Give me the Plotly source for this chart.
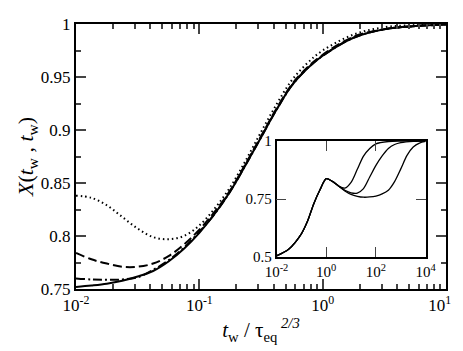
import plotly.graph_objects as go

# main panel: x in t_w / tau_eq^(2/3), log10 positions
main_logx = [-2, -1.875, -1.75, -1.625, -1.5, -1.375, -1.25, -1.125, -1, -0.875,
             -0.75, -0.625, -0.5, -0.375, -0.25, -0.125, 0, 0.25, 0.5, 0.75, 1]
solid = [0.752, 0.7533, 0.7550, 0.7578, 0.7618, 0.767, 0.776, 0.788, 0.803, 0.821,
         0.842, 0.867, 0.893, 0.919, 0.942, 0.958, 0.970, 0.987, 0.995, 0.998, 0.9995]
dotted = [0.838, 0.836, 0.829, 0.818, 0.807, 0.799, 0.797, 0.800, 0.810, 0.826,
          0.846, 0.871, 0.898, 0.924, 0.947, 0.963, 0.975, 0.990, 0.997, 0.999, 1.0]
dashed = [0.784, 0.778, 0.774, 0.771, 0.771, 0.774, 0.781, 0.792, 0.806, 0.823,
          0.843, 0.868, 0.894, 0.920, 0.943, 0.959, 0.971, 0.988, 0.995, 0.998, 0.9995]
dashdot = [0.760, 0.759, 0.7588, 0.759, 0.761, 0.768, 0.777, 0.789, 0.804, 0.821,
           0.842, 0.867, 0.893, 0.919, 0.942, 0.958, 0.970, 0.987, 0.995, 0.998, 0.9995]

# inset: three waiting times
inset_logx_shared = [-2, -1.5, -1, -0.75, -0.5, -0.25, 0, 0.25, 0.5]
inset_shared = [0.505, 0.535, 0.60, 0.655, 0.73, 0.79, 0.838, 0.826, 0.806]
inset_logx_a = [0.75, 1.0, 1.25, 1.5, 1.75, 2.0, 2.5, 3.0, 4.0]
inset_a = [0.797, 0.822, 0.878, 0.935, 0.968, 0.988, 0.998, 1.0, 1.0]
inset_logx_b = [0.75, 1.0, 1.25, 1.5, 1.75, 2.0, 2.25, 2.5, 2.75, 3.0, 3.5, 4.0]
inset_b = [0.788, 0.777, 0.776, 0.795, 0.845, 0.895, 0.936, 0.968, 0.985, 0.993, 0.999, 1.0]
inset_logx_c = [0.75, 1.0, 1.25, 1.5, 1.75, 2.0, 2.25, 2.5, 2.75, 3.0, 3.25, 3.5, 3.75, 4.0]
inset_c = [0.785, 0.770, 0.762, 0.758, 0.759, 0.763, 0.772, 0.788, 0.825, 0.880, 0.938, 0.974, 0.991, 0.998]

main_ticktext = ["10<sup>-2</sup>", "10<sup>-1</sup>", "10<sup>0</sup>",
                 "10<sup>1</sup>\u00a0\u00a0\u00a0"]

serif = "Times New Roman, Liberation Serif, DejaVu Serif, serif"

fig = go.Figure()

styles = [(solid, "solid"), (dotted, "1.5px,3px"), (dashed, "9px,4px"), (dashdot, "9px,3px,2px,3px")]
for ys, dash in styles:
    fig.add_trace(go.Scatter(
        x=[10 ** v for v in main_logx], y=ys, mode="lines",
        line=dict(color="black", width=2, dash=dash, shape="spline", smoothing=1.0),
        showlegend=False, xaxis="x", yaxis="y"))

for lx, ly in [(inset_logx_a, inset_a), (inset_logx_b, inset_b), (inset_logx_c, inset_c)]:
    xs = inset_logx_shared + lx
    ys = inset_shared + ly
    fig.add_trace(go.Scatter(
        x=[10 ** v for v in xs], y=ys, mode="lines",
        line=dict(color="black", width=1.3, shape="spline", smoothing=0.8),
        showlegend=False, xaxis="x2", yaxis="y2"))

main_minor_x = [m * 10 ** e for e in (-2, -1, 0) for m in range(2, 10)]

fig.update_layout(
    width=463, height=351,
    margin=dict(l=68, r=13, t=7, b=70),
    paper_bgcolor="white", plot_bgcolor="white",
    font=dict(family=serif, color="black", size=17),
    xaxis=dict(
        type="log", range=[-2, 1], domain=[0, 1],
        tickmode="array", tickvals=[0.01, 0.1, 1, 10], ticktext=main_ticktext,
        ticks="inside", ticklen=10, tickwidth=1.5, showline=True, linewidth=2, linecolor="black",
        mirror="allticks", showgrid=False, zeroline=False,
        tickfont=dict(family=serif, size=17),
        minor=dict(tickmode="array", tickvals=main_minor_x, ticks="inside", ticklen=5,
                   tickwidth=1.5, showgrid=False),
        title=dict(text="<i>t</i><sub>w</sub> / τ<sub>eq</sub><sup><i> 2/3</i></sup>",
                   font=dict(family=serif, size=21), standoff=8),
    ),
    yaxis=dict(
        range=[0.75, 1], domain=[0, 1], dtick=0.05, tick0=0.75,
        ticks="inside", ticklen=10, tickwidth=1.5, showline=True, linewidth=2, linecolor="black",
        mirror="allticks", showgrid=False, zeroline=False,
        tickfont=dict(family=serif, size=17),
        minor=dict(dtick=0.025, ticks="inside", ticklen=5, tickwidth=1.5, showgrid=False),
        title=dict(text="<i>X</i>(<i>t</i><sub>w</sub> , <i>t</i><sub>w</sub>)",
                   font=dict(family=serif, size=22), standoff=0),
    ),
    xaxis2=dict(
        type="log", range=[-2, 4], domain=[0.5419, 0.945], anchor="y2",
        tickmode="array", tickvals=[0.01, 1, 100, 10000],
        ticktext=["10<sup>-2</sup>", "10<sup>0</sup>", "10<sup>2</sup>", "10<sup>4</sup>"],
        ticks="inside", ticklen=10, tickwidth=1.2, showline=True, linewidth=1.5, linecolor="black",
        mirror="allticks", showgrid=False, zeroline=False, tickfont=dict(family=serif, size=15),
    ),
    yaxis2=dict(
        range=[0.5, 1], domain=[0.1204, 0.5584], anchor="x2",
        tickmode="array", tickvals=[0.5, 0.75, 1], ticktext=["0.5", "0.75", "1"],
        ticks="inside", ticklen=10, tickwidth=1.2, showline=True, linewidth=1.5, linecolor="black",
        mirror="allticks", showgrid=False, zeroline=False, tickfont=dict(family=serif, size=15),
    ),
)

fig.write_html("out.html")
